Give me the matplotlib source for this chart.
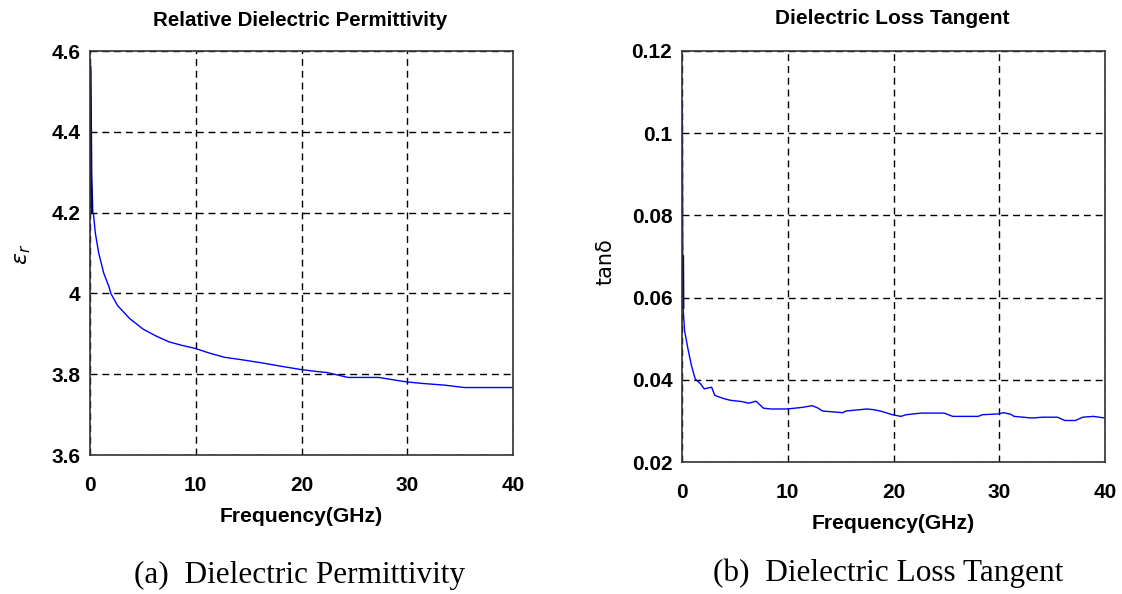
import matplotlib
matplotlib.use("Agg")
import matplotlib.pyplot as plt

# relative permittivity vs frequency (GHz)
freq_eps = [0.0, 0.02, 0.1, 0.2, 0.33, 0.5, 0.82, 1.3, 1.8, 1.97, 2.6, 3.74, 5.0,
            6.2, 7.48, 8.6, 9.92, 11.2, 12.68, 14.3, 16.26, 18.0, 19.84, 21.0,
            22.44, 24.39, 27.3, 29.9, 31.5, 33.5, 35.4, 40.0]
eps_r = [4.559, 4.559, 4.294, 4.2, 4.196, 4.15, 4.10, 4.05, 4.016, 4.0, 3.97, 3.938,
         3.912, 3.895, 3.880, 3.872, 3.864, 3.853, 3.842, 3.836, 3.828, 3.820,
         3.812, 3.808, 3.804, 3.792, 3.792, 3.781, 3.777, 3.773, 3.767, 3.767]

# loss tangent vs frequency (GHz)
freq_tan = [0.0, 0.03, 0.07, 0.1, 0.24, 0.58, 0.9, 1.25, 1.76, 2.1, 2.8, 3.1, 3.97,
            4.6, 5.66, 6.3, 7.0, 7.7, 8.4, 9.9, 10.7, 11.4, 12.3, 12.8, 13.3,
            15.2, 15.5, 17.5, 18.2, 18.9, 19.9, 20.7, 21.2, 22.6, 24.8, 25.6,
            28.0, 28.4, 29.9, 30.4, 31.1, 31.4, 33.1, 34.1, 35.5, 36.2, 37.2,
            37.9, 38.9, 40.0]
tan_d = [0.108, 0.108, 0.070, 0.0576, 0.052, 0.0473, 0.0434, 0.0402, 0.039, 0.0378,
         0.0382, 0.0362, 0.0354, 0.035, 0.0347, 0.0343, 0.0348, 0.0331, 0.0329,
         0.0329, 0.0331, 0.0333, 0.0337, 0.0332, 0.0324, 0.032, 0.0324, 0.0329,
         0.0327, 0.0323, 0.0315, 0.0311, 0.0315, 0.0319, 0.0319, 0.0311, 0.0311,
         0.0315, 0.0317, 0.032, 0.0316, 0.0311, 0.0307, 0.0309, 0.0309, 0.0301,
         0.0301, 0.0309, 0.0311, 0.0307]

x_ticks = [0, 10, 20, 30, 40]
eps_ticks = [3.6, 3.8, 4.0, 4.2, 4.4, 4.6]
eps_labels = ["3.6", "3.8", "4", "4.2", "4.4", "4.6"]
tan_ticks = [0.02, 0.04, 0.06, 0.08, 0.10, 0.12]
tan_labels = ["0.02", "0.04", "0.06", "0.08", "0.1", "0.12"]

W, H = 1122, 594
fig = plt.figure(figsize=(W / 100, H / 100), dpi=100)

plot_font = ["Liberation Sans", "DejaVu Sans"]
cap_font = ["Liberation Serif", "DejaVu Serif"]


def px_axes(x0, y0, x1, y1):
    return fig.add_axes([x0 / W, 1 - y1 / H, (x1 - x0) / W, (y1 - y0) / H])


def style(ax, yticks, ylabels, ylim):
    ax.set_xlim(0, 40)
    ax.set_ylim(*ylim)
    ax.set_xticks(x_ticks)
    ax.set_xticklabels([str(t) for t in x_ticks])
    ax.set_yticks(yticks)
    ax.set_yticklabels(ylabels)
    ax.tick_params(length=0, pad=7, labelsize=15)
    ax.tick_params(axis="x", pad=15)
    for lab in ax.get_xticklabels() + ax.get_yticklabels():
        lab.set_family(plot_font)
        lab.set_fontweight("bold")
    ax.grid(True, color="black", linestyle=(0, (5, 3.5)), linewidth=1.0)
    for sp in ax.spines.values():
        sp.set_color("#333333")
        sp.set_linewidth(1.2)


# (a) permittivity
ax1 = px_axes(90, 51, 513, 455)
ax1.plot(freq_eps, eps_r, color="#0000ff", lw=1.0)
ax1.plot(freq_eps[1:4], eps_r[1:4], color="#00008b", lw=2.0)
style(ax1, eps_ticks, eps_labels, (3.6, 4.6))
ax1.set_xlabel("Frequency(GHz)", family=plot_font, fontweight="bold", fontsize=15.2,
               labelpad=9)
fig.text(23 / W, 1 - 254 / H, r"$\varepsilon_r$", rotation=90, fontsize=16,
         ha="center", va="center")
fig.text(300 / W, 1 - 21 / H, "Relative Dielectric Permittivity", family=plot_font,
         fontweight="bold", fontsize=14.8, ha="center", va="center")
fig.text(299 / W, 1 - 575 / H, "(a)  Dielectric Permittivity", family=cap_font,
         fontsize=22.5, ha="center", va="center")

# (b) loss tangent
ax2 = px_axes(682, 51, 1105, 462)
ax2.plot(freq_tan, tan_d, color="#0000ff", lw=1.0)
ax2.plot(freq_tan[2:4], tan_d[2:4], color="#00008b", lw=2.0)
style(ax2, tan_ticks, tan_labels, (0.02, 0.12))
ax2.set_xlabel("Frequency(GHz)", family=plot_font, fontweight="bold", fontsize=15.2,
               labelpad=9)
fig.text(606 / W, 1 - 262 / H, "tan\u03b4", rotation=90, fontsize=15,
         family="DejaVu Sans", ha="center", va="center")
fig.text(892 / W, 1 - 18 / H, "Dielectric Loss Tangent", family=plot_font,
         fontweight="bold", fontsize=15, ha="center", va="center")
fig.text(888 / W, 1 - 573 / H, "(b)  Dielectric Loss Tangent", family=cap_font,
         fontsize=22.5, ha="center", va="center")

fig.savefig("out.png", dpi=100)
